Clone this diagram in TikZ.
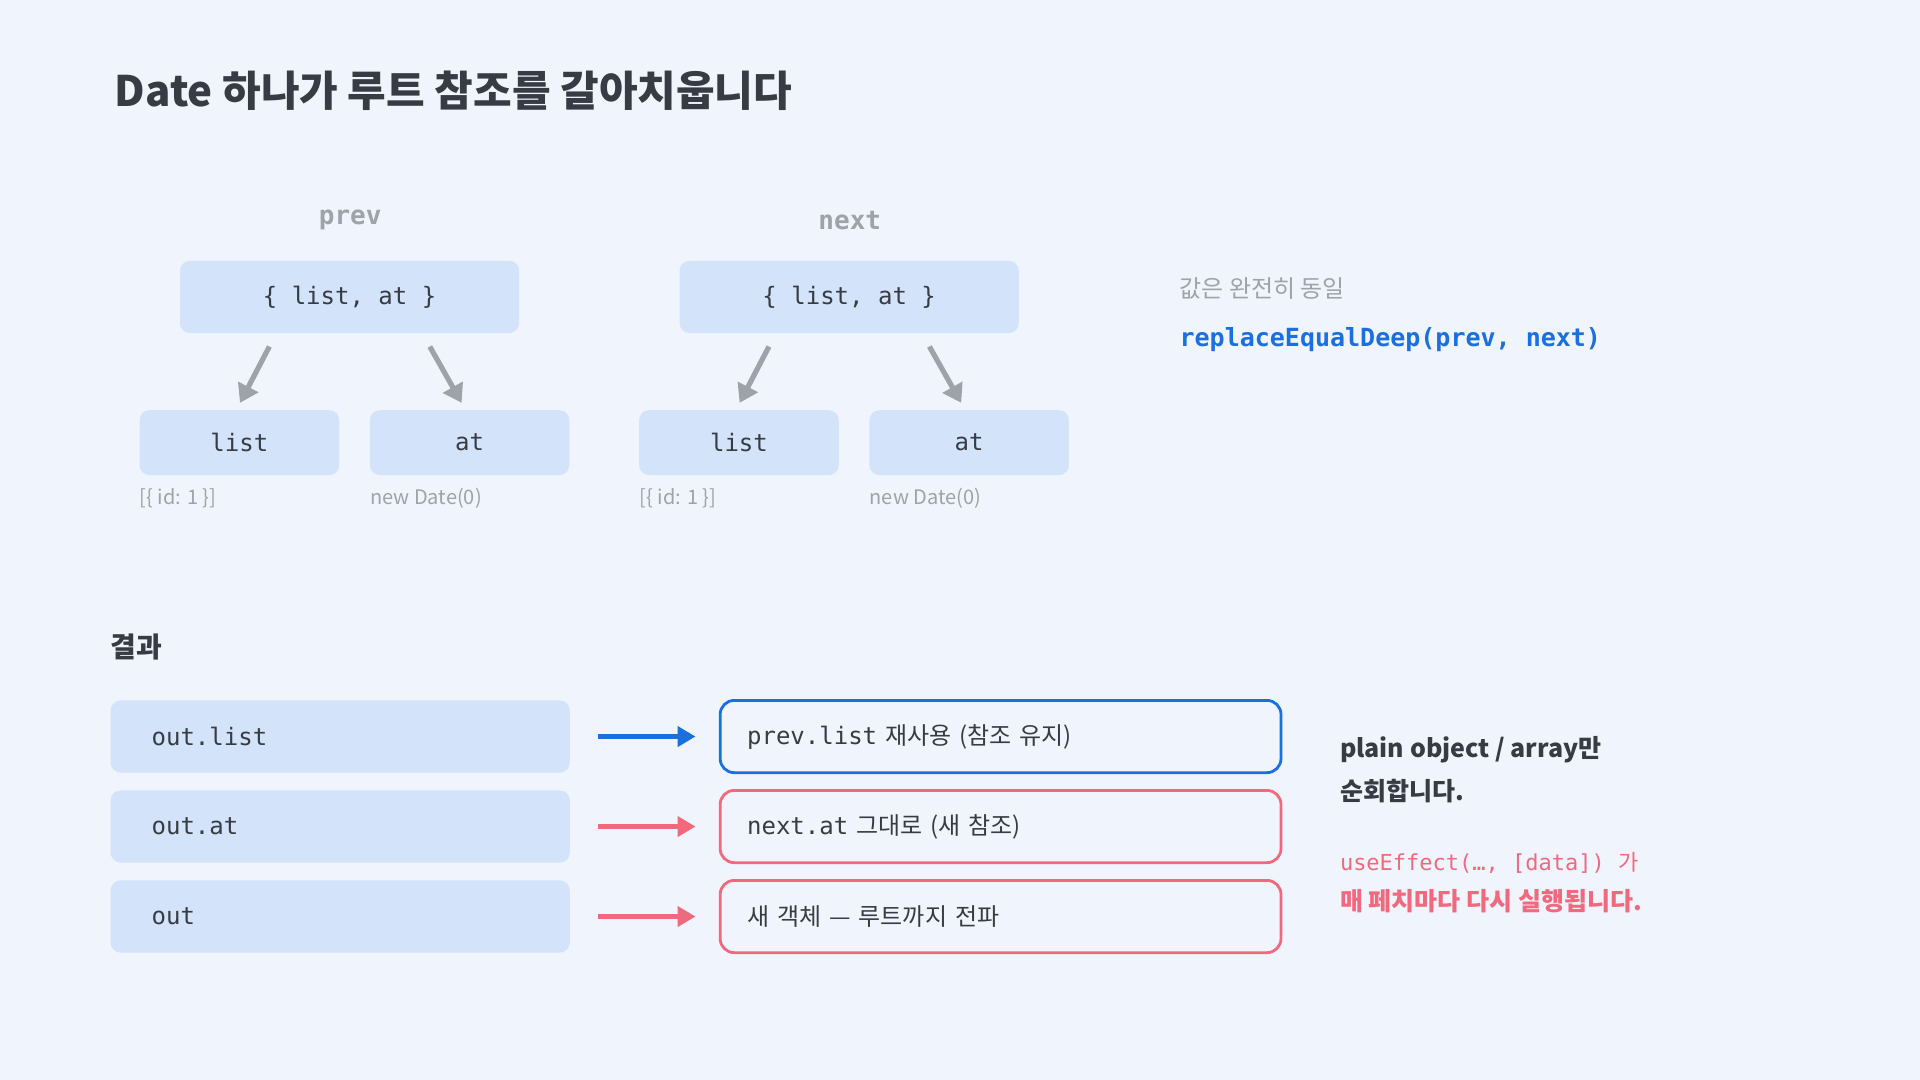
\documentclass[tikz,border=0pt]{standalone}
\usepackage{fontspec}
\setmainfont{Noto Sans CJK KR}
\setmonofont{DejaVu Sans Mono}
\newfontfamily\krfont{Noto Sans CJK KR}
\usetikzlibrary{arrows.meta, positioning}
\definecolor{bgcol}{HTML}{F0F5FD}
\definecolor{boxcol}{HTML}{D3E3FA}
\definecolor{inkcol}{HTML}{373C44}
\definecolor{greycol}{HTML}{9EA2A9}
\definecolor{bluecol}{HTML}{1B6FE0}
\definecolor{pinkcol}{HTML}{F2697E}
\newcommand{\kr}[1]{{\krfont #1}}
\tikzset{
  valbox/.style={fill=boxcol, rounded corners=5pt, draw=none, text=inkcol,
    font=\ttfamily\fontsize{12}{14}\selectfont},
  outbox/.style={fill=bgcol, rounded corners=7pt, line width=1.4pt, text=inkcol,
    anchor=west, font=\ttfamily\fontsize{12}{14}\selectfont, inner xsep=0pt},
  tiny/.style={text=greycol, anchor=west, font=\fontsize{10}{12}\selectfont, inner sep=0pt},
  ptr/.style={draw=greycol, line width=2.6pt, -{Triangle[length=9pt,width=11pt]}},
  flow/.style={line width=2.2pt, -{Triangle[length=9pt,width=10pt]}}
}
\begin{document}
\begin{tikzpicture}[x=0.6122pt, y=-0.6122pt]
  \fill[bgcol] (0,0) rectangle (1568,882);
  \useasboundingbox (0,0) rectangle (1568,882);

  \node[anchor=west, text=inkcol, font=\fontsize{21}{25}\selectfont\bfseries] (title) at (88,74) {Date 하나가 루트 참조를 갈아치웁니다};

  % prev / next trees
  \foreach \name/\dx in {prev/0, next/408}{
    \begin{scope}[xshift=\dx*0.6122pt]
      \node[text=greycol, font=\ttfamily\bfseries\fontsize{13}{15}\selectfont] (\name-head) at (286,180) {\name};
      \node[valbox, minimum width=277*0.6122pt, minimum height=59*0.6122pt] (\name-root) at (285.5,242.5) {\{ list, at \}};
      \node[valbox, minimum width=163*0.6122pt, minimum height=53*0.6122pt] (\name-list) at (195.5,361.5) {list};
      \node[valbox, minimum width=163*0.6122pt, minimum height=53*0.6122pt] (\name-at) at (383.5,361.5) {at};
      \coordinate (\name-la) at (220,283);
      \coordinate (\name-lb) at (196,329);
      \coordinate (\name-ra) at (351,283);
      \coordinate (\name-rb) at (377,329);
      \draw[ptr] (\name-la) -- (\name-lb);
      \draw[ptr] (\name-ra) -- (\name-rb);
      \node[tiny] (\name-lval) at (114,407) {[\{ id: 1 \}]};
      \node[tiny] (\name-aval) at (302,407) {new Date(0)};
    \end{scope}
  }

  \node[tiny, font=\fontsize{12}{14}\selectfont] (same) at (963,236) {값은 완전히 동일};
  \node[anchor=west, inner sep=0pt, text=bluecol, font=\ttfamily\bfseries\fontsize{12.5}{15}\selectfont] (call) at (963,277) {replaceEqualDeep(prev, next)};

  % result
  \node[anchor=west, text=inkcol, font=\fontsize{14}{17}\selectfont\bfseries, inner sep=0pt] (result) at (90,528) {결과};

  \foreach \i/\y/\lhs/\col/\rhs in {
      1/601.5/out.list/bluecol/{prev.list \kr{재사용 (참조 유지)}},
      2/675/out.at/pinkcol/{next.at \kr{그대로 (새 참조)}},
      3/748.5/out/pinkcol/{\kr{새 객체 — 루트까지 전파}}}{
    \node[valbox, anchor=west, minimum width=375*0.6122pt, minimum height=59*0.6122pt,
      text width=350*0.6122pt, align=left, inner xsep=0pt] (lhs\i) at (90,\y) {\hspace*{21\dimexpr0.6122pt\relax}\lhs};
    \node[outbox, draw=\col, minimum width=458*0.6122pt, minimum height=59*0.6122pt,
      text width=458*0.6122pt, align=left] (rhs\i) at (587,\y) {\hspace*{22\dimexpr0.6122pt\relax}\rhs};
    \coordinate (from\i) at (488,\y);
    \coordinate (to\i) at (568,\y);
    \draw[flow, draw=\col, fill=\col] (from\i) -- (to\i);
  }

  \node[anchor=west, inner sep=0pt, text=inkcol, font=\fontsize{12.5}{15}\selectfont\bfseries] (note1) at (1094,612) {plain object / array만};
  \node[anchor=west, inner sep=0pt, text=inkcol, font=\fontsize{12.5}{15}\selectfont\bfseries] (note2) at (1094,646) {순회합니다.};
  \node[anchor=west, inner sep=0pt, text=pinkcol, font=\ttfamily\fontsize{11}{13}\selectfont] (note3) at (1094,705) {useEffect(…, [data]) \kr{가}};
  \node[anchor=west, inner sep=0pt, text=pinkcol, font=\fontsize{12.5}{15}\selectfont\bfseries] (note4) at (1094,736) {매 페치마다 다시 실행됩니다.};
\end{tikzpicture}
\end{document}
